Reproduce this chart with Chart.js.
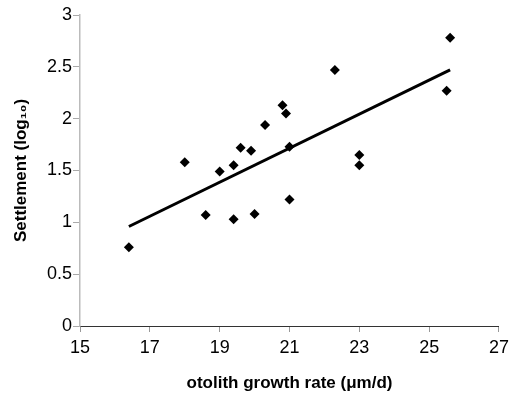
<!DOCTYPE html>
<html>
<head>
<meta charset="utf-8">
<script src="https://cdn.jsdelivr.net/npm/chart.js@4"></script>
<style>
html,body{margin:0;padding:0;background:#fff;}
#wrap{width:514px;height:395px;position:relative;}
</style>
</head>
<body>
<div id="wrap"><canvas id="c"></canvas></div>
<script>
// otolith growth rate (um/d) vs settlement (log10)
const growth = [16.4, 18.0, 18.6, 19.0, 19.4, 19.4, 19.6, 19.9, 20.0, 20.3, 20.8, 20.9, 21.0, 21.0, 22.3, 23.0, 23.0, 25.5, 25.6];
const settlement = [0.76, 1.58, 1.07, 1.49, 1.55, 1.03, 1.72, 1.69, 1.08, 1.94, 2.13, 2.05, 1.73, 1.22, 2.47, 1.65, 1.55, 2.27, 2.78];

// trend line ends
const trendX = [16.4, 25.6];
const trendY = [0.96, 2.47];

const xTicks = [15, 17, 19, 21, 23, 25, 27];
const yTicks = [0, 0.5, 1, 1.5, 2, 2.5, 3];

const font = "'Liberation Sans', Arial, sans-serif";

new Chart(document.getElementById("c"), {
type: "scatter",
data: {
datasets: [
{
data: growth.map((x, i) => ({x: x, y: settlement[i]})),
pointStyle: "rectRot",
pointRadius: 5,
backgroundColor: "#000",
borderColor: "#000",
borderWidth: 0
},
{
type: "line",
data: trendX.map((x, i) => ({x: x, y: trendY[i]})),
borderColor: "#000",
borderWidth: 3,
pointRadius: 0,
fill: false
}
]
},
options: {
responsive: true,
maintainAspectRatio: false,
animation: false,
layout: {padding: {top: 15, right: 9, left: 0, bottom: 0}},
plugins: {legend: {display: false}, tooltip: {enabled: false}},
scales: {
x: {
type: "linear",
min: 15, max: 27,
afterBuildTicks: s => { s.ticks = xTicks.map(v => ({value: v})); },
afterFit: s => { s.height = 69; },
grid: {drawOnChartArea: false, tickLength: 6, color: "#999"},
border: {color: "#333", width: 1},
ticks: {color: "#000", font: {family: font, size: 18}, padding: 5, maxRotation: 0,
callback: v => String(v)},
title: {display: true, text: "otolith growth rate (\u03bcm/d)", color: "#000",
font: {family: font, size: 17, weight: "bold"}, padding: {top: 8, bottom: 1}}
},
y: {
min: 0, max: 3,
afterBuildTicks: s => { s.ticks = yTicks.map(v => ({value: v})); },
afterFit: s => { s.width = 80; },
grid: {drawOnChartArea: false, tickLength: 7, color: "#aaa"},
border: {color: "#bbb", width: 1.5},
ticks: {color: "#000", font: {family: font, size: 18}, padding: 1,
callback: v => String(v)},
title: {display: true, text: "Settlement (log\u2081\u2080)", color: "#000",
font: {family: font, size: 17, weight: "bold"}, padding: {top: 11, bottom: 0}}
}
}
}
});
</script>
</body>
</html>
